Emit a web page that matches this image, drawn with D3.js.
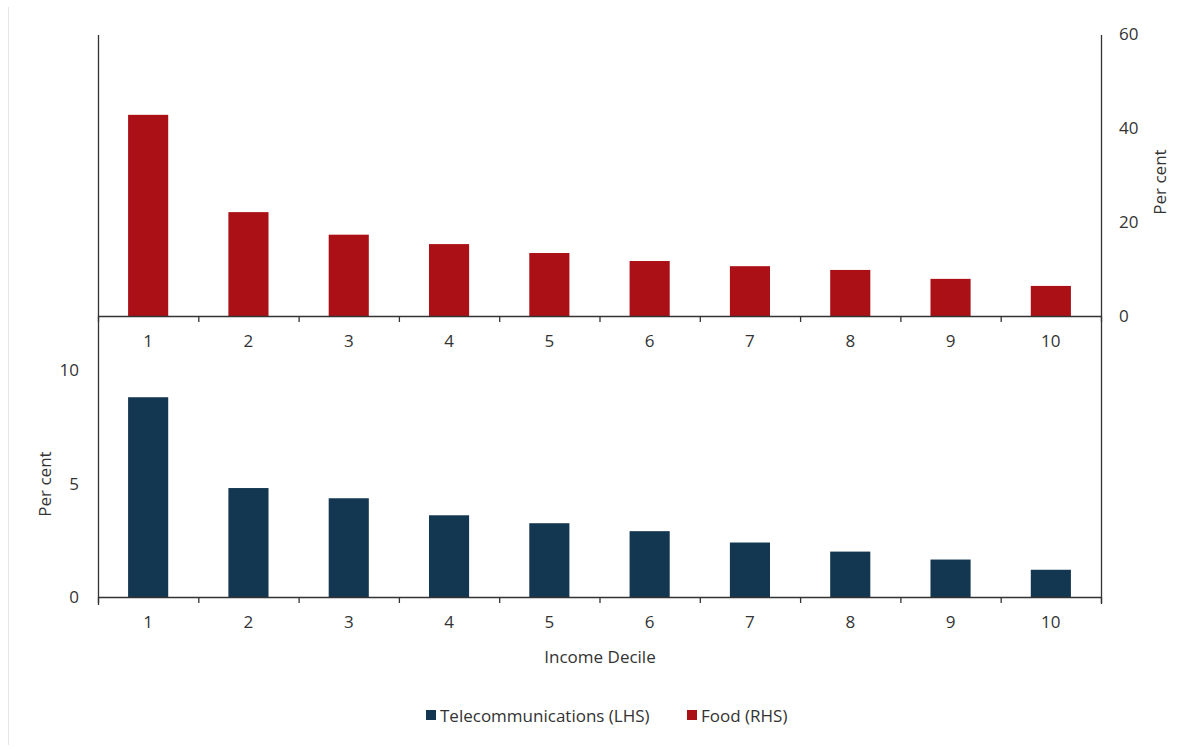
<!DOCTYPE html>
<html>
<head>
<meta charset="utf-8">
<script src="https://cdn.jsdelivr.net/npm/d3@7"></script>
<style>
  body { margin: 0; background: #fff; }
  svg { display: block; }
  text { font-family: "Open Sans", "Noto Sans", sans-serif; fill: #333; }
</style>
</head>
<body>
<svg id="chart" width="1181" height="749"></svg>
<script>
// Income deciles
const deciles = ["1", "2", "3", "4", "5", "6", "7", "8", "9", "10"];
// Share of spending on food, per cent (right-hand scale, top panel)
const food = [42.8, 22.1, 17.3, 15.3, 13.4, 11.7, 10.6, 9.8, 7.9, 6.4];
// Share of spending on telecommunications, per cent (left-hand scale, bottom panel)
const telecom = [8.8, 4.8, 4.35, 3.6, 3.25, 2.9, 2.4, 2.0, 1.65, 1.2];
const foodTicks = [0, 20, 40, 60];
const telecomTicks = [0, 5, 10];
const seriesNames = ["Telecommunications (LHS)", "Food (RHS)"];
const colors = { telecom: "#133651", food: "#AB1016" };

const svg = d3.select("#chart");
const plotLeft = 98, plotRight = 1101, plotTop = 34;

// faint frame edge on the left
svg.append("line").attr("x1", 8.5).attr("x2", 8.5).attr("y1", 7).attr("y2", 745)
  .attr("stroke", "#e6e6e6").attr("stroke-width", 1);

const x = d3.scaleBand().domain(deciles).range([plotLeft, plotRight]).paddingInner(0.6).paddingOuter(0.3);
const yFood = d3.scaleLinear().domain([0, 60]).range([316, plotTop]);
const yTel = d3.scaleLinear().domain([0, 10]).range([597, 370]);

// bars
svg.append("g").selectAll("rect").data(food).join("rect")
  .attr("x", (d, i) => x(deciles[i]))
  .attr("width", x.bandwidth())
  .attr("y", d => yFood(d))
  .attr("height", d => yFood(0) - yFood(d))
  .attr("fill", colors.food);

svg.append("g").selectAll("rect").data(telecom).join("rect")
  .attr("x", (d, i) => x(deciles[i]))
  .attr("width", x.bandwidth())
  .attr("y", d => yTel(d))
  .attr("height", d => yTel(0) - yTel(d))
  .attr("fill", colors.telecom);

// vertical frame lines
svg.append("line").attr("x1", plotLeft + 0.5).attr("x2", plotLeft + 0.5).attr("y1", 35).attr("y2", 605)
  .attr("stroke", "#333").attr("stroke-width", 1.3);
svg.append("line").attr("x1", plotRight + 0.5).attr("x2", plotRight + 0.5).attr("y1", 35).attr("y2", 604)
  .attr("stroke", "#333").attr("stroke-width", 1.3);

// category axes with tick marks at band boundaries
const boundaries = d3.range(deciles.length + 1).map(i => plotLeft + i * (plotRight - plotLeft) / deciles.length);
function categoryAxis(y0) {
  const g = svg.append("g");
  g.append("line").attr("x1", plotLeft).attr("x2", plotRight).attr("y1", y0 + 0.5).attr("y2", y0 + 0.5)
    .attr("stroke", "#333").attr("stroke-width", 1.3);
  g.selectAll("line.tick").data(boundaries).join("line").attr("class", "tick")
    .attr("x1", d => d + 0.5).attr("x2", d => d + 0.5)
    .attr("y1", y0).attr("y2", y0 + 6)
    .attr("stroke", "#333").attr("stroke-width", 1.3);
  g.selectAll("text").data(deciles).join("text")
    .attr("x", d => x(d) + x.bandwidth() / 2)
    .attr("y", y0 + 31)
    .attr("text-anchor", "middle")
    .attr("font-size", 17)
    .text(d => d);
}
categoryAxis(316);
categoryAxis(597);

// right-hand value labels (food)
svg.append("g").selectAll("text").data(foodTicks).join("text")
  .attr("x", 1119).attr("y", d => yFood(d) + 6)
  .attr("font-size", 17)
  .text(d => d);

// left-hand value labels (telecommunications)
svg.append("g").selectAll("text").data(telecomTicks).join("text")
  .attr("x", 79).attr("y", d => yTel(d) + 6)
  .attr("text-anchor", "end")
  .attr("font-size", 17)
  .text(d => d);

// axis titles
svg.append("text").attr("transform", "translate(1166,182) rotate(-90)")
  .attr("text-anchor", "middle").attr("font-size", 17).text("Per cent");
svg.append("text").attr("transform", "translate(51,484) rotate(-90)")
  .attr("text-anchor", "middle").attr("font-size", 17).text("Per cent");
svg.append("text").attr("x", 600).attr("y", 663)
  .attr("text-anchor", "middle").attr("font-size", 17).text("Income Decile");

// legend
const legend = svg.append("g");
const items = [
  { name: seriesNames[0], color: colors.telecom, x: 426 },
  { name: seriesNames[1], color: colors.food, x: 687 }
];
items.forEach(it => {
  legend.append("rect").attr("x", it.x).attr("y", 710).attr("width", 10).attr("height", 10).attr("fill", it.color);
  legend.append("text").attr("x", it.x + 14).attr("y", 722).attr("font-size", 17).text(it.name);
});
</script>
</body>
</html>
